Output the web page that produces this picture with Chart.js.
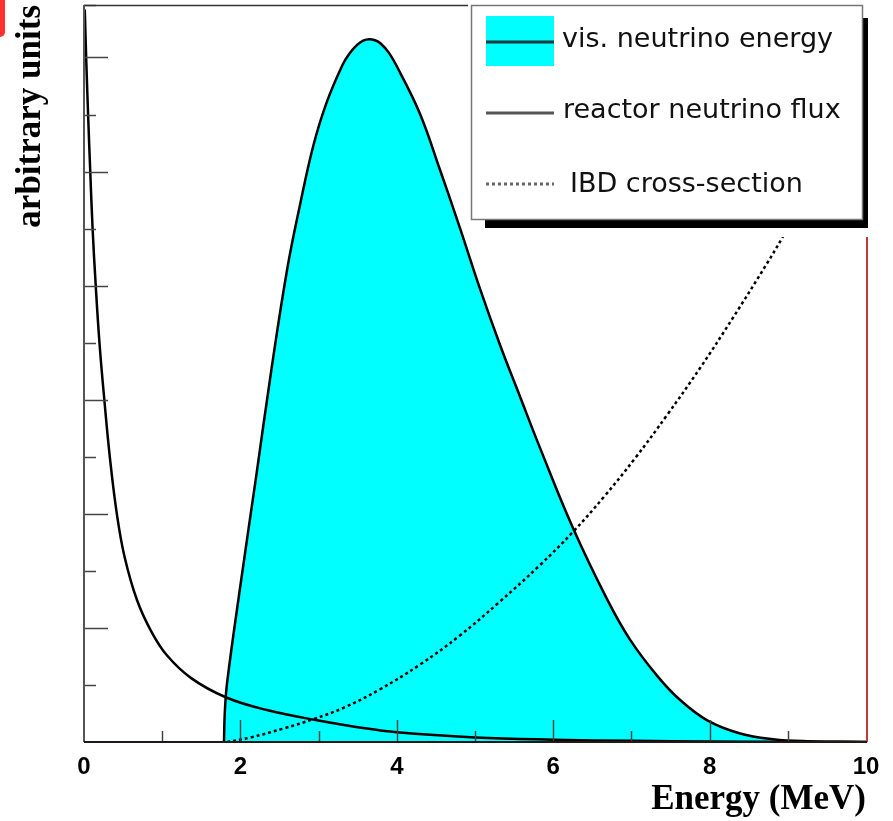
<!DOCTYPE html>
<html>
<head>
<meta charset="utf-8">
<script src="https://cdn.jsdelivr.net/npm/chart.js@4"></script>
<style>
  html, body { margin: 0; padding: 0; background: #fff; }
  #wrap { width: 893px; height: 821px; }
</style>
</head>
<body>
<div id="wrap"><canvas id="myChart"></canvas></div>
<script>
// energies in MeV, values in arbitrary units
const visEnergyX = [1.79, 1.80, 1.83, 2.01, 2.20, 2.40, 2.60, 2.76, 2.93, 3.10, 3.31, 3.40, 3.50, 3.57, 3.65, 3.72, 3.79, 3.90, 4.04, 4.30, 4.55, 4.81, 5.06, 5.32, 5.58, 5.83, 6.25, 6.69, 6.98, 7.33, 7.62, 7.97, 8.39, 8.81, 9.25, 10.0];
const visEnergyY = [0, 0.25, 0.52, 1.42, 2.32, 3.28, 4.15, 4.70, 5.22, 5.60, 5.94, 6.04, 6.115, 6.148, 6.16, 6.151, 6.125, 6.04, 5.87, 5.50, 5.02, 4.50, 3.98, 3.48, 3.02, 2.58, 1.88, 1.25, 0.90, 0.58, 0.37, 0.19, 0.075, 0.025, 0.007, 0];

const fluxX = [0.01, 0.03, 0.055, 0.08, 0.11, 0.15, 0.20, 0.26, 0.33, 0.42, 0.52, 0.68, 0.86, 1.06, 1.37, 1.82, 2.34, 2.98, 3.5, 4.0, 5.0, 6.0, 7.0, 8.0, 9.0, 10.0];
const fluxY = [6.42, 5.95, 5.45, 5.0, 4.5, 4.0, 3.48, 3.0, 2.5, 2.0, 1.62, 1.24, 0.97, 0.76, 0.56, 0.39, 0.28, 0.19, 0.13, 0.085, 0.04, 0.02, 0.01, 0.005, 0.002, 0.001];

const ibdX = [1.83, 2.13, 2.56, 2.93, 3.32, 3.78, 4.3, 4.8, 5.3, 5.83, 6.25, 6.65, 7.05, 7.45, 7.88, 8.30, 8.73, 8.93, 9.5, 10.0];
const ibdY = [0, 0.04, 0.12, 0.20, 0.30, 0.46, 0.68, 0.93, 1.22, 1.55, 1.84, 2.15, 2.49, 2.86, 3.28, 3.72, 4.19, 4.42, 5.1, 5.7];

const legendLabels = ['vis. neutrino energy', 'reactor neutrino flux', 'IBD cross-section'];

const toPoints = (xs, ys) => xs.map((v, i) => ({x: v, y: ys[i]}));

function line(ctx, x1, y1, x2, y2) {
    ctx.beginPath();
    ctx.moveTo(x1, y1);
    ctx.lineTo(x2, y2);
    ctx.stroke();
}

// ROOT style frame: ticks inside, red right edge, boxed legend with shadow
const rootFrame = {
    id: 'rootFrame',
    afterDatasetsDraw(chart) {
        const {ctx, chartArea: a, scales: {x, y}} = chart;
        ctx.save();
        ctx.strokeStyle = '#444';
        ctx.lineWidth = 1.5;
        y.ticks.forEach(t => {
            if (t.value <= 0) return;
            const py = Math.round(y.getPixelForValue(t.value)) + 0.5;
            const len = Number.isInteger(t.value) ? 24 : 12;
            line(ctx, a.left, py, a.left + len, py);
        });
        x.ticks.forEach(t => {
            if (t.value <= 0 || t.value >= 10) return;
            const px = Math.round(x.getPixelForValue(t.value)) + 0.5;
            const len = t.value % 2 === 0 ? 22 : 11;
            line(ctx, px, a.bottom, px, a.bottom - len);
        });

        ctx.lineWidth = 1.5;
        ctx.strokeStyle = '#333';
        line(ctx, a.left, a.top + 0.5, a.right, a.top + 0.5);
        ctx.lineWidth = 2;
        ctx.strokeStyle = '#555';
        line(ctx, a.left, a.top, a.left, a.bottom);
        ctx.strokeStyle = '#c03a3a';
        line(ctx, a.right + 1, a.top, a.right + 1, a.bottom);
        ctx.strokeStyle = '#221818';
        line(ctx, a.left, a.bottom, a.right + 1, a.bottom);
        ctx.restore();
    },
    afterDraw(chart) {
        const {ctx, chartArea: a} = chart;
        ctx.save();
        const bx = a.right - 395, by = a.top;
        // blank out behind legend
        ctx.fillStyle = '#fff';
        ctx.fillRect(bx - 3, 0, chart.width - bx + 3, 237);
        // shadow
        ctx.fillStyle = '#000';
        ctx.fillRect(bx + 14, by + 13, 383, 210);
        // box
        ctx.fillStyle = '#fff';
        ctx.fillRect(bx, by, 391, 214);
        ctx.strokeStyle = '#777';
        ctx.lineWidth = 1.5;
        ctx.strokeRect(bx + 0.5, by + 0.5, 391, 214);

        // samples
        ctx.fillStyle = '#00ffff';
        ctx.fillRect(bx + 15, 16, 68, 50);
        ctx.lineWidth = 3;
        ctx.strokeStyle = '#0b3b3b';
        line(ctx, bx + 15, 42, bx + 83, 42);
        ctx.strokeStyle = '#555';
        line(ctx, bx + 15, 113, bx + 83, 113);
        ctx.strokeStyle = '#666';
        ctx.setLineDash([3, 3]);
        line(ctx, bx + 15, 184, bx + 83, 184);
        ctx.setLineDash([]);

        ctx.fillStyle = '#111';
        ctx.font = '27px "DejaVu Sans"';
        ctx.textBaseline = 'alphabetic';
        ctx.fillText(legendLabels[0], bx + 91, 47);
        ctx.fillText(legendLabels[1], bx + 92, 118);
        ctx.fillText(legendLabels[2], bx + 99, 192);

        // red tab in the corner
        ctx.fillStyle = '#ff3030';
        ctx.beginPath();
        ctx.roundRect(-6, -6, 11, 43, 5);
        ctx.fill();
        ctx.restore();
    }
};

const data = {
    datasets: [{
        label: legendLabels[0],
        data: toPoints(visEnergyX, visEnergyY),
        borderColor: '#000',
        backgroundColor: '#00ffff',
        borderWidth: 2.5,
        fill: 'origin',
        order: 2
    }, {
        label: legendLabels[1],
        data: toPoints(fluxX, fluxY),
        borderColor: '#000',
        borderWidth: 2.5,
        fill: false,
        order: 1
    }, {
        label: legendLabels[2],
        data: toPoints(ibdX, ibdY),
        borderColor: '#000',
        borderWidth: 2.5,
        borderDash: [3, 3],
        fill: false,
        order: 1
    }]
};

const config = {
    type: 'scatter',
    data,
    options: {
        responsive: true,
        maintainAspectRatio: false,
        animation: false,
        layout: {
            padding: {top: 5, right: 27, left: 0, bottom: 0}
        },
        elements: {
            point: {radius: 0},
            line: {tension: 0.4, capBezierPoints: true}
        },
        datasets: {
            scatter: {showLine: true}
        },
        plugins: {
            legend: {display: false},
            tooltip: {enabled: false}
        },
        scales: {
            x: {
                type: 'linear',
                min: 0,
                max: 10,
                afterFit: s => { s.height = 79; },
                grid: {display: false},
                border: {display: false},
                ticks: {
                    stepSize: 1,
                    autoSkip: false,
                    maxRotation: 0,
                    padding: 3,
                    color: '#000',
                    font: {family: 'Liberation Sans', size: 24, weight: 'bold'},
                    callback: v => (v % 2 === 0 ? String(v) : '')
                },
                title: {
                    display: true,
                    text: 'Energy (MeV)',
                    align: 'end',
                    color: '#000',
                    padding: {top: 0, bottom: 0},
                    font: {family: 'Liberation Serif', size: 35, weight: 'bold'}
                }
            },
            y: {
                type: 'linear',
                min: 0,
                max: 6.46,
                afterFit: s => { s.width = 84; },
                grid: {display: false},
                border: {display: false},
                ticks: {stepSize: 0.5, display: false},
                title: {
                    display: true,
                    text: 'arbitrary units',
                    align: 'end',
                    color: '#000',
                    padding: {top: 10, bottom: 0},
                    font: {family: 'Liberation Serif', size: 35, weight: 'bold'}
                }
            }
        }
    },
    plugins: [rootFrame]
};

var myChart = new Chart(
    document.getElementById('myChart'),
    config
);
</script>
</body>
</html>
